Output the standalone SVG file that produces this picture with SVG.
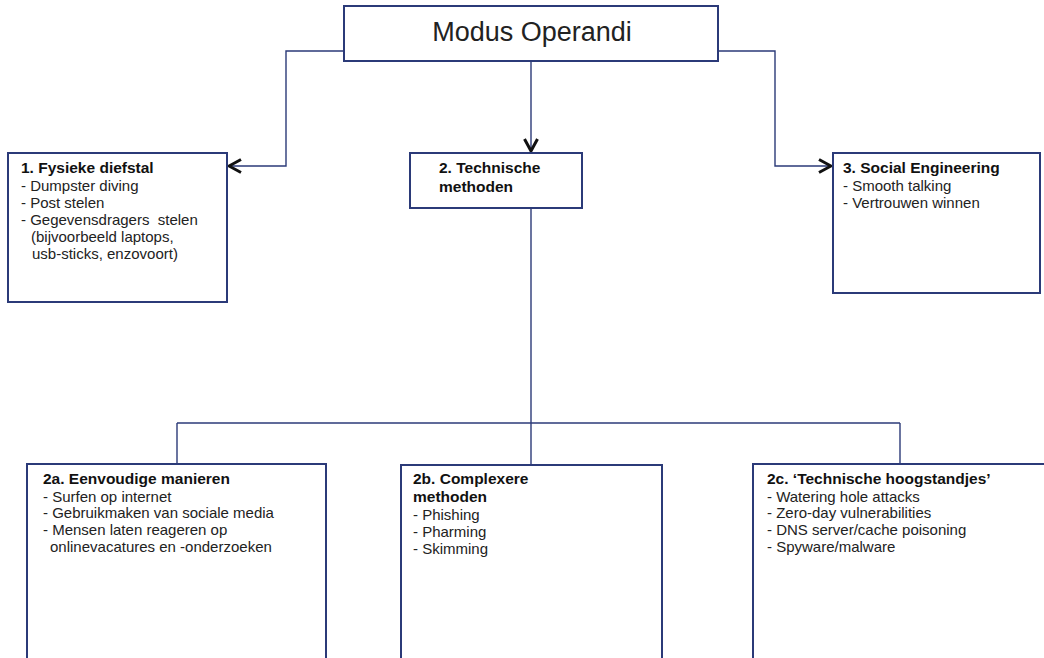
<svg xmlns="http://www.w3.org/2000/svg" width="1044" height="658" viewBox="0 0 1044 658">
<style>
.box{fill:#fff;stroke:#2b3a78;stroke-width:2}
.con{fill:none;stroke:#2b3a78;stroke-width:1.4}
.t{font-family:"Liberation Sans",Arial,sans-serif;font-size:15.5px;font-weight:bold;fill:#111}
.b{font-family:"Liberation Sans",Arial,sans-serif;font-size:15px;fill:#222}
.h{font-family:"Liberation Sans",Arial,sans-serif;font-size:27px;fill:#222}
</style>
<defs>
<marker id="arr" markerUnits="userSpaceOnUse" markerWidth="16" markerHeight="18" viewBox="-2 -2 16 18" refX="12" refY="6.5" orient="auto">
<path d="M0,0 L12,6.5 L0,13" fill="none" stroke="#111" stroke-width="3"/>
</marker>
</defs>
<rect width="1044" height="658" fill="#fff"/>
<g id="connectors">
<path class="con" d="M344,51 H286 V166 H229" marker-end="url(#arr)"/>
<path class="con" d="M718,51 H775 V166 H831" marker-end="url(#arr)"/>
<path class="con" d="M531,61 V151" marker-end="url(#arr)"/>
<path class="con" d="M531,208 V465"/>
<path class="con" d="M177,423 H900"/>
<path class="con" d="M177,423 V464"/>
<path class="con" d="M900,423 V464"/>
</g>
<g id="n0">
<rect class="box" x="344" y="6" width="374" height="55"/>
<text class="h" x="532" y="41" text-anchor="middle">Modus Operandi</text>
</g>
<g id="n1">
<rect class="box" x="8" y="153" width="219" height="149"/>
<text class="t" x="21" y="173">1. Fysieke diefstal</text>
<text class="b" x="21" y="191">- Dumpster diving</text>
<text class="b" x="21" y="208">- Post stelen</text>
<text class="b" x="21" y="225" xml:space="preserve">- Gegevensdragers  stelen</text>
<text class="b" x="31" y="242">(bijvoorbeeld laptops,</text>
<text class="b" x="32" y="259">usb-sticks, enzovoort)</text>
</g>
<g id="n2">
<rect class="box" x="410" y="153" width="172" height="55"/>
<text class="t" x="439" y="173">2. Technische</text>
<text class="t" x="439" y="192">methoden</text>
</g>
<g id="n3">
<rect class="box" x="833" y="153" width="207" height="140"/>
<text class="t" x="843" y="173">3. Social Engineering</text>
<text class="b" x="843" y="191">- Smooth talking</text>
<text class="b" x="843" y="208">- Vertrouwen winnen</text>
</g>
<g id="n2a">
<rect class="box" x="27" y="464" width="299" height="220"/>
<text class="t" x="43" y="484">2a. Eenvoudige manieren</text>
<text class="b" x="43" y="502">- Surfen op internet</text>
<text class="b" x="43" y="518">- Gebruikmaken van sociale media</text>
<text class="b" x="43" y="535">- Mensen laten reageren op</text>
<text class="b" x="50" y="552">onlinevacatures en -onderzoeken</text>
</g>
<g id="n2b">
<rect class="box" x="401" y="465" width="261" height="220"/>
<text class="t" x="413" y="484">2b. Complexere</text>
<text class="t" x="413" y="502">methoden</text>
<text class="b" x="413" y="520">- Phishing</text>
<text class="b" x="413" y="537">- Pharming</text>
<text class="b" x="413" y="554">- Skimming</text>
</g>
<g id="n2c">
<rect class="box" x="753" y="464" width="320" height="220"/>
<text class="t" x="767" y="484">2c. ‘Technische hoogstandjes’</text>
<text class="b" x="767" y="502">- Watering hole attacks</text>
<text class="b" x="767" y="518">- Zero-day vulnerabilities</text>
<text class="b" x="767" y="535">- DNS server/cache poisoning</text>
<text class="b" x="767" y="552">- Spyware/malware</text>
</g>
</svg>
